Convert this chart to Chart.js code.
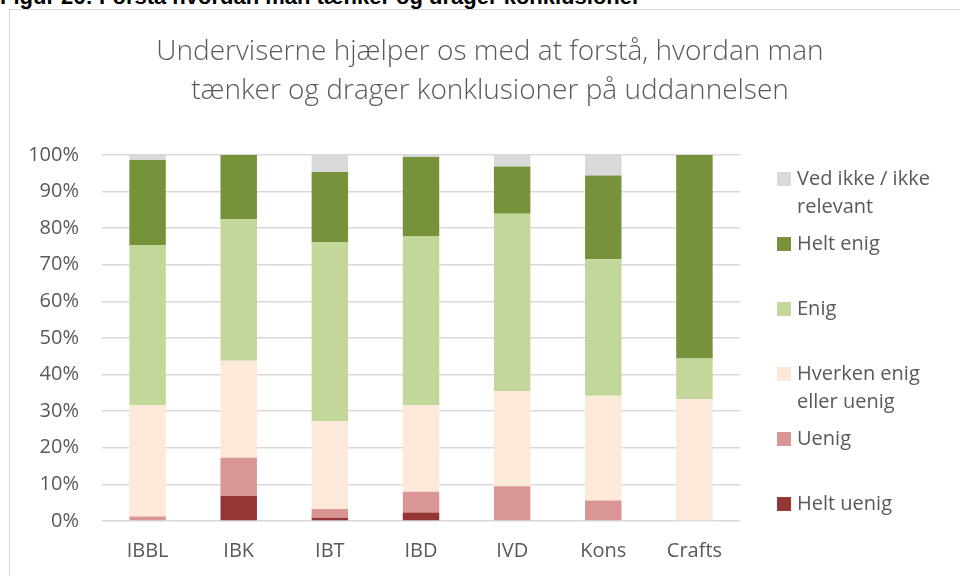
<!DOCTYPE html>
<html>
<head>
<meta charset="utf-8">
<script src="https://cdn.jsdelivr.net/npm/chart.js@4"></script>
<style>
  html, body { margin: 0; padding: 0; background: #ffffff; width: 960px; height: 576px; overflow: hidden; }
  #hdr { position: absolute; left: 0; top: -13px; font: bold 22px "Liberation Sans", Arial, sans-serif; line-height: 20px; color: #000; white-space: nowrap; }
  #frame { position: absolute; left: 9px; top: 9px; width: 980px; height: 600px; border: 1px solid #d9d9d9; box-sizing: border-box; }
  #c { position: absolute; left: 0; top: 0; }
</style>
</head>
<body>
<div id="hdr">Figur 26: Forstå hvordan man tænker og drager konklusioner</div>
<div id="frame"></div>
<canvas id="c" width="960" height="576"></canvas>
<script>
const categories = ['IBBL', 'IBK', 'IBT', 'IBD', 'IVD', 'Kons', 'Crafts'];
const titleLines = ['Underviserne hjælper os med at forstå, hvordan man', 'tænker og drager konklusioner på uddannelsen'];
const yTickLabels = ['0%', '10%', '20%', '30%', '40%', '50%', '60%', '70%', '80%', '90%', '100%'];

const heltUenig = [0, 6.8, 0.9, 2.3, 0, 0, 0];
const uenig     = [1.2, 10.5, 2.4, 5.7, 9.5, 5.6, 0];
const hverken   = [30.5, 26.5, 24.0, 23.6, 26.0, 28.6, 33.3];
const enig      = [43.7, 38.7, 48.9, 46.1, 48.4, 37.3, 11.1];
const heltEnig  = [23.2, 17.5, 19.1, 21.7, 12.9, 22.9, 55.6];
const vedIkke   = [1.4, 0, 4.7, 0.6, 3.2, 5.6, 0];

const seriesNames = ['Helt uenig', 'Uenig', 'Hverken enig eller uenig', 'Enig', 'Helt enig', 'Ved ikke / ikke relevant'];
const seriesValues = [heltUenig, uenig, hverken, enig, heltEnig, vedIkke];
const seriesColors = ['#963634', '#da9694', '#fde9d9', '#c4d79b', '#76933c', '#d9d9d9'];

const FONT = '"Open Sans", "Noto Sans", sans-serif';
const TEXT = '#595959';

const legendPlugin = {
  id: 'sideLegend',
  afterDraw(chart) {
    const ctx = chart.ctx;
    const ds = chart.data.datasets.slice().reverse();
    const boxX = 777, textX = 797, startY = 179, step = 65, lineH = 28, maxW = 150;
    ctx.save();
    ctx.font = '20px ' + FONT;
    ctx.textBaseline = 'middle';
    ds.forEach((d, i) => {
      const y = startY + i * step;
      ctx.fillStyle = d.backgroundColor;
      ctx.fillRect(boxX, y - 7, 14, 14);
      const words = d.label.split(' ');
      const lines = [];
      let cur = '';
      words.forEach(w => {
        const t = cur ? cur + ' ' + w : w;
        if (ctx.measureText(t).width > maxW && cur) { lines.push(cur); cur = w; } else { cur = t; }
      });
      if (cur) lines.push(cur);
      ctx.fillStyle = TEXT;
      lines.forEach((l, j) => ctx.fillText(l, textX, y + j * lineH));
    });
    ctx.restore();
  }
};

new Chart(document.getElementById('c'), {
  type: 'bar',
  data: {
    labels: categories,
    datasets: seriesNames.map((n, i) => ({
      label: n,
      data: seriesValues[i],
      backgroundColor: seriesColors[i],
      borderWidth: 0,
      barPercentage: 0.4,
      categoryPercentage: 1.0
    }))
  },
  options: {
    responsive: false,
    animation: false,
    layout: { padding: { left: 20, right: 0, top: 0, bottom: 0 } },
    plugins: {
      legend: { display: false },
      tooltip: { enabled: false },
      title: {
        display: true,
        text: titleLines,
        color: TEXT,
        font: { family: FONT, size: 28, weight: 300, lineHeight: 1.4 },
        padding: { top: 32, bottom: 44.5 }
      }
    },
    scales: {
      x: {
        stacked: true,
        grid: { display: false, drawTicks: false },
        border: { display: false },
        ticks: { color: TEXT, font: { family: FONT, size: 20 }, padding: 18 },
        afterFit(s) { s.height = 55; }
      },
      y: {
        stacked: true,
        min: 0, max: 100,
        grid: { color: '#d9d9d9', lineWidth: 1.5, drawTicks: false },
        border: { display: false },
        ticks: {
          stepSize: 10,
          color: TEXT,
          font: { family: FONT, size: 20 },
          padding: 23,
          callback: (v) => yTickLabels[Math.round(v / 10)]
        },
        afterFit(s) { s.width = 82; }
      },
      yRight: {
        position: 'right',
        min: 0, max: 100,
        grid: { display: false, drawTicks: false },
        border: { display: false },
        ticks: { display: false },
        afterFit(s) { s.width = 220; }
      }
    }
  },
  plugins: [legendPlugin]
});
</script>
</body>
</html>
